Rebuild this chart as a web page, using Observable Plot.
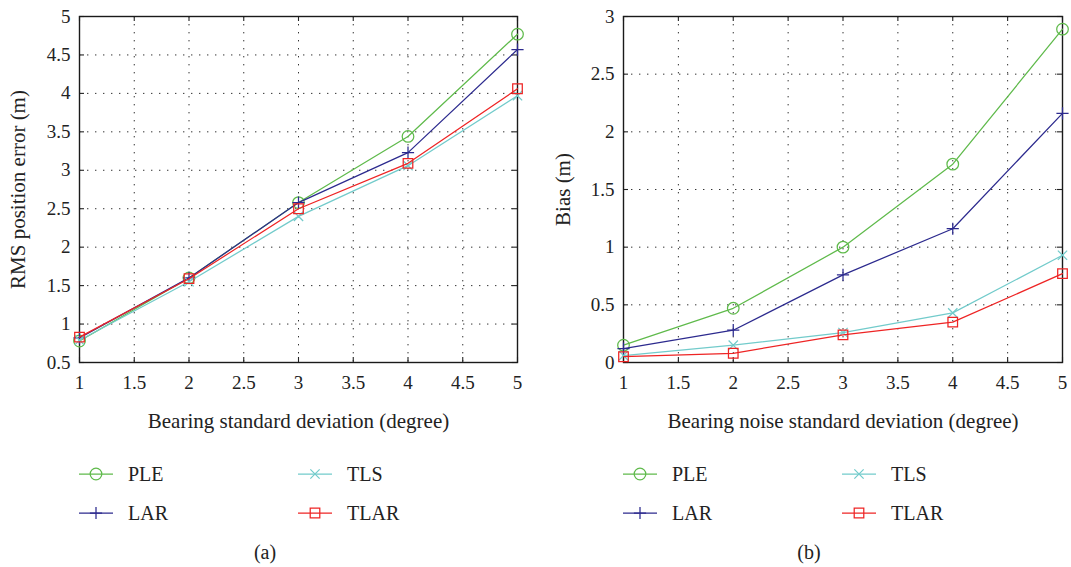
<!DOCTYPE html>
<html><head><meta charset="utf-8">
<script src="https://cdn.jsdelivr.net/npm/d3@7"></script>
<script src="https://cdn.jsdelivr.net/npm/@observablehq/plot@0.6"></script>
<style>
body{margin:0;background:#fff;}
#fig{position:relative;width:1071px;height:567px;font-family:"Liberation Serif",serif;color:#222;overflow:hidden;background:#fff}
.panel{position:absolute;top:0}
.leg{position:absolute;display:flex;align-items:center;font-size:20px;line-height:1;white-space:nowrap;transform:translateY(-50%)}
.leg svg{display:block;margin-right:15px;overflow:visible}
.cap{position:absolute;font-size:20px;line-height:1;transform:translate(-50%,-50%)}
</style></head><body><div id="fig"></div>
<script>
const xValues = [1, 2, 3, 4, 5];
const seriesNames = ["PLE", "LAR", "TLS", "TLAR"];
const seriesColors = ["#5fba4b", "#2c2a8e", "#72cbcb", "#ee2424"];
const seriesSymbols = ["circle", "plus", "times", "square"];
const seriesR = [5.8, 4, 4.3, 5.4];

const rmsPLE  = [0.78, 1.60, 2.58, 3.44, 4.77];
const rmsLAR  = [0.82, 1.60, 2.58, 3.23, 4.57];
const rmsTLS  = [0.79, 1.55, 2.40, 3.06, 3.97];
const rmsTLAR = [0.83, 1.59, 2.50, 3.09, 4.06];

const biasPLE  = [0.15, 0.47, 1.00, 1.72, 2.89];
const biasLAR  = [0.12, 0.28, 0.76, 1.16, 2.16];
const biasTLS  = [0.06, 0.15, 0.26, 0.43, 0.93];
const biasTLAR = [0.05, 0.08, 0.24, 0.35, 0.77];

const xTicks  = [1, 1.5, 2, 2.5, 3, 3.5, 4, 4.5, 5];
const yTicksA = [0.5, 1, 1.5, 2, 2.5, 3, 3.5, 4, 4.5, 5];
const yTicksB = [0, 0.5, 1, 1.5, 2, 2.5, 3];

const fig = document.getElementById("fig");

function panel(cfg) {
  const H = 440, mT = 16, mB = 78;
  const plotH = H - mT - mB;
  const plotW = cfg.width - cfg.marginLeft - cfg.marginRight;
  const marks = [
    Plot.gridX(xTicks, {stroke: "#333", strokeOpacity: 1, strokeWidth: 1, strokeDasharray: "1.4,6.6"}),
    Plot.gridY(cfg.yTicks, {stroke: "#333", strokeOpacity: 1, strokeWidth: 1, strokeDasharray: "1.4,6.6"}),
    Plot.ruleX(xTicks, {x: d => d, insetTop: plotH - 5, stroke: "#222", strokeWidth: 1.1}),
    Plot.ruleX(xTicks, {x: d => d, insetBottom: plotH - 5, stroke: "#222", strokeWidth: 1.1}),
    Plot.ruleY(cfg.yTicks, {y: d => d, insetRight: plotW - 5, stroke: "#222", strokeWidth: 1.1}),
    Plot.ruleY(cfg.yTicks, {y: d => d, insetLeft: plotW - 5, stroke: "#222", strokeWidth: 1.1}),
    Plot.frame({stroke: "#1a1a1a", strokeWidth: 1.4}),
    Plot.axisX(xTicks, {tickSize: 0, tickPadding: 13, fontSize: 19, tickFormat: d => String(d), label: null}),
    Plot.axisY(cfg.yTicks, {tickSize: 0, tickPadding: 9, fontSize: 19, tickFormat: d => String(d), label: null}),
    Plot.text([cfg.xLabel], {frameAnchor: "bottom", dy: 59, fontSize: 21, text: d => d, fill: "#222", textAnchor: "middle", lineAnchor: "middle"}),
    Plot.text([cfg.yLabel], {frameAnchor: "left", rotate: -90, dx: cfg.yLabelDx, fontSize: 21, text: d => d, fill: "#222", textAnchor: "middle", lineAnchor: "middle"})
  ];
  cfg.values.forEach((vals, i) => {
    const rows = xValues.map((x, j) => ({x, y: vals[j]}));
    marks.push(Plot.line(rows, {x: "x", y: "y", stroke: seriesColors[i], strokeWidth: 1.25}));
    marks.push(Plot.dot(rows, {x: "x", y: "y", symbol: seriesSymbols[i], r: seriesR[i], stroke: seriesColors[i], fill: "none", strokeWidth: 1.25}));
  });
  const svg = Plot.plot({
    width: cfg.width, height: H,
    marginLeft: cfg.marginLeft, marginRight: cfg.marginRight, marginTop: mT, marginBottom: mB,
    style: {fontFamily: "'Liberation Serif', serif", color: "#222", background: "transparent", overflow: "visible"},
    x: {domain: [1, 5]},
    y: {domain: cfg.yDomain},
    marks
  });
  svg.classList.add("panel");
  svg.style.left = cfg.left + "px";
  fig.appendChild(svg);

  // legend
  const frameLeft = cfg.left + cfg.marginLeft;
  const pos = [[0, 474], [0, 513], [219, 474], [219, 513]];
  const symMap = {circle: d3.symbolCircle, plus: d3.symbolPlus, times: d3.symbolTimes, square: d3.symbolSquare};
  seriesNames.forEach((name, i) => {
    const d = document.createElement("div");
    d.className = "leg";
    d.style.left = (frameLeft + pos[i][0]) + "px";
    d.style.top = pos[i][1] + "px";
    const s = d3.create("svg").attr("width", 34).attr("height", 16);
    s.append("line").attr("x1", 0).attr("x2", 34).attr("y1", 8).attr("y2", 8)
      .attr("stroke", seriesColors[i]).attr("stroke-width", 1.25);
    s.append("path").attr("transform", "translate(17,8)")
      .attr("d", d3.symbol(symMap[seriesSymbols[i]], Math.PI * seriesR[i] * seriesR[i])())
      .attr("fill", "none").attr("stroke", seriesColors[i]).attr("stroke-width", 1.25);
    d.appendChild(s.node());
    const t = document.createElement("span");
    t.textContent = name;
    d.appendChild(t);
    fig.appendChild(d);
  });
  const c = document.createElement("div");
  c.className = "cap";
  c.style.left = (frameLeft + 186) + "px";
  c.style.top = "552px";
  c.textContent = cfg.caption;
  fig.appendChild(c);
}

panel({
  left: 0, width: 540, marginLeft: 79, marginRight: 23,
  yDomain: [0.5, 5], yTicks: yTicksA,
  xLabel: "Bearing standard deviation (degree)",
  yLabel: "RMS position error (m)", yLabelDx: -61,
  values: [rmsPLE, rmsLAR, rmsTLS, rmsTLAR],
  caption: "(a)"
});
panel({
  left: 540, width: 531, marginLeft: 83, marginRight: 9,
  yDomain: [0, 3], yTicks: yTicksB,
  xLabel: "Bearing noise standard deviation (degree)",
  yLabel: "Bias (m)", yLabelDx: -60,
  values: [biasPLE, biasLAR, biasTLS, biasTLAR],
  caption: "(b)"
});
</script></body></html>
